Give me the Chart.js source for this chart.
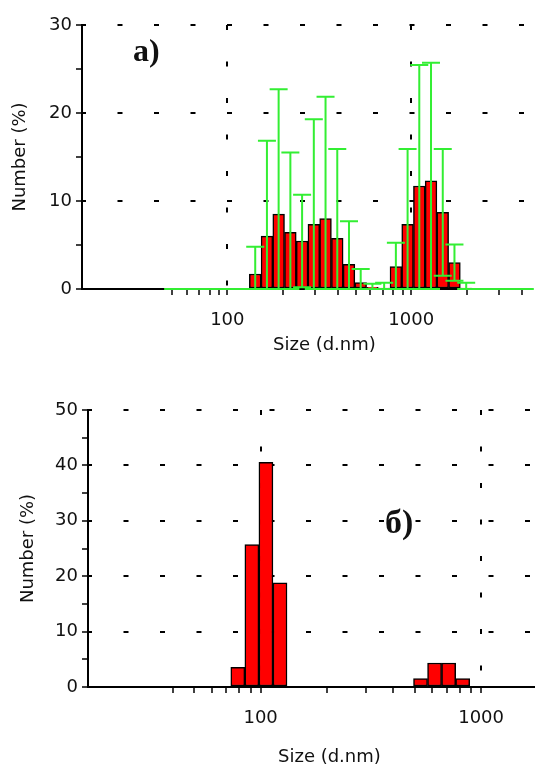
<!DOCTYPE html>
<html>
<head>
<meta charset="utf-8">
<script src="https://cdn.jsdelivr.net/npm/chart.js@4.4.0/dist/chart.umd.min.js"></script>
<style>
  html, body { margin: 0; padding: 0; background: #fff; }
  .box { position: absolute; left: 0; width: 537px; }
  #boxA { top: 0; height: 380px; }
  #boxB { top: 380px; height: 387px; }
</style>
</head>
<body>
<div class="box" id="boxA"><canvas id="chartA" width="537" height="380"></canvas></div>
<div class="box" id="boxB"><canvas id="chartB" width="537" height="387"></canvas></div>
<script>
// sample a) - size classes (d.nm), number %, standard deviation
const sizesA = [50.75, 58.77, 68.06, 78.82, 91.28, 105.7, 122.4, 141.8, 164.2, 190.1,
                220.2, 255.0, 295.3, 342.0, 396.1, 458.7, 531.2, 615.1, 712.4, 825.0,
                955.4, 1106, 1281, 1484, 1718, 1990, 2305, 2669, 3091, 3580, 4145];
const numberA = [0, 0, 0, 0, 0, 0, 0, 1.7, 6.0, 8.5,
                 6.45, 5.45, 7.35, 8.0, 5.75, 2.8, 0.72, 0.2, 0.1, 2.55,
                 7.35, 11.7, 12.3, 8.7, 3.0, 0.1, 0, 0, 0, 0, 0];
const errA = [0, 0, 0, 0, 0, 0, 0, 3.1, 10.85, 14.2,
              9.05, 5.25, 11.95, 13.85, 10.15, 4.9, 1.55, 0.4, 0.6, 2.7,
              8.55, 13.75, 13.4, 7.2, 2.07, 0.6, 0, 0, 0, 0, 0];
const ticksA = [50, 60, 70, 80, 90, 100, 200, 300, 400, 500, 600, 700, 800, 900, 1000, 2000, 3000, 4000];

// sample б)
const sizesB = [78.82, 91.28, 105.7, 122.4, 141.8, 164.2, 190.1, 220.2, 255.0, 295.3,
                342.0, 396.1, 458.7, 531.2, 615.1, 712.4, 825.0];
const numberB = [3.55, 25.7, 40.55, 18.8, 0, 0, 0, 0, 0, 0,
                 0, 0, 0, 1.5, 4.33, 4.33, 1.5];
const ticksB = [40, 50, 60, 70, 80, 90, 100, 200, 300, 400, 500, 600, 700, 800, 900, 1000];

const labelsX = [100, 1000];

const FONT = 'DejaVu Sans';
const INK = '#111';
const GREEN = '#33ee33';

const errorBars = {
  id: 'errorBars',
  afterDatasetsDraw(chart, args, opts) {
    if (!opts.err) return;
    const {ctx, scales: {x, y}} = chart;
    ctx.save();
    ctx.strokeStyle = GREEN;
    ctx.lineWidth = 2;
    opts.sizes.forEach((s, i) => {
      const px = x.getPixelForValue(s);
      const hi = y.getPixelForValue(opts.values[i] + opts.err[i]);
      const lo = y.getPixelForValue(Math.max(0, opts.values[i] - opts.err[i]));
      ctx.beginPath();
      ctx.moveTo(px, lo); ctx.lineTo(px, hi);
      ctx.moveTo(px - 9, hi); ctx.lineTo(px + 9, hi);
      ctx.moveTo(px - 9, lo); ctx.lineTo(px + 9, lo);
      ctx.stroke();
    });
    ctx.restore();
  }
};

const texts = {
  id: 'texts',
  afterDraw(chart, args, opts) {
    const ctx = chart.ctx;
    ctx.save();
    ctx.fillStyle = INK;
    opts.items.forEach(t => {
      ctx.font = t.font;
      ctx.textBaseline = t.baseline;
      ctx.textAlign = 'left';
      ctx.fillText(t.text, t.x, t.y);
    });
    ctx.restore();
  }
};

function makeChart(id, sizes, values, err, xTicks, xMin, xMax, yMax, yAxisWidth, xAxisHeight, top, titlePad, items) {
  return new Chart(document.getElementById(id), {
    type: 'bar',
    data: {
      datasets: [{
        data: sizes.map((s, i) => ({x: s, y: values[i]})),
        backgroundColor: '#ff0000',
        borderColor: '#000',
        borderWidth: 1.5,
        borderSkipped: false,
        barThickness: 'flex',
        barPercentage: 1,
        categoryPercentage: 1
      }]
    },
    options: {
      responsive: false,
      animation: false,
      layout: {padding: {top: top, right: 3, left: 0, bottom: 0}},
      plugins: {
        legend: {display: false},
        tooltip: {enabled: false},
        errorBars: {sizes: sizes, values: values, err: err},
        texts: {items: items}
      },
      scales: {
        x: {
          type: 'logarithmic',
          min: xMin,
          max: xMax,
          offset: false,
          afterBuildTicks: scale => { scale.ticks = xTicks.map(v => ({value: v})); },
          afterFit: scale => { scale.height = xAxisHeight; },
          grid: {
            offset: false,
            color: c => c.tick && labelsX.includes(c.tick.value) ? '#000' : 'rgba(0,0,0,0)',
            lineWidth: 2,
            tickColor: '#000',
            tickWidth: 1.5,
            tickLength: 6
          },
          border: {color: '#000', width: 2, dash: [5, 31.5], dashOffset: 0},
          ticks: {
            autoSkip: false,
            maxRotation: 0,
            minRotation: 0,
            padding: 15,
            color: INK,
            font: {family: FONT, size: 18},
            callback: v => labelsX.includes(v) ? String(v) : ''
          }
        },
        y: {
          min: 0,
          max: yMax,
          afterFit: scale => { scale.width = yAxisWidth; },
          grid: {
            color: c => c.tick && c.tick.value % 10 === 0 ? '#000' : 'rgba(0,0,0,0)',
            lineWidth: 2,
            tickColor: '#000',
            tickWidth: 1.5,
            tickLength: 6
          },
          border: {color: '#000', width: 2, dash: [5, 31.5], dashOffset: 2},
          ticks: {
            stepSize: 5,
            padding: 4,
            color: INK,
            font: {family: FONT, size: 18},
            callback: v => v % 10 === 0 ? String(v) : ''
          },
          title: {
            display: true,
            text: 'Number (%)',
            color: INK,
            font: {family: FONT, size: 18},
            padding: {top: titlePad, bottom: 0}
          }
        }
      }
    },
    plugins: [errorBars, texts]
  });
}

makeChart('chartA', sizesA, numberA, errA, ticksA, 16.21, 4309, 30, 82, 91, 25, 10, [
  {text: 'Size (d.nm)', x: 273, y: 345, baseline: 'middle', font: '18px "DejaVu Sans"'},
  {text: 'a)', x: 133, y: 61, baseline: 'alphabetic', font: 'bold 32px "Liberation Serif"'}
]);

makeChart('chartB', sizesB, numberB, null, ticksB, 16.49, 1737, 50, 88, 80, 30, 18, [
  {text: 'Size (d.nm)', x: 278, y: 377, baseline: 'middle', font: '18px "DejaVu Sans"'},
  {text: 'б)', x: 385, y: 153, baseline: 'alphabetic', font: 'bold 34px "Liberation Serif"'}
]);
</script>
</body>
</html>
